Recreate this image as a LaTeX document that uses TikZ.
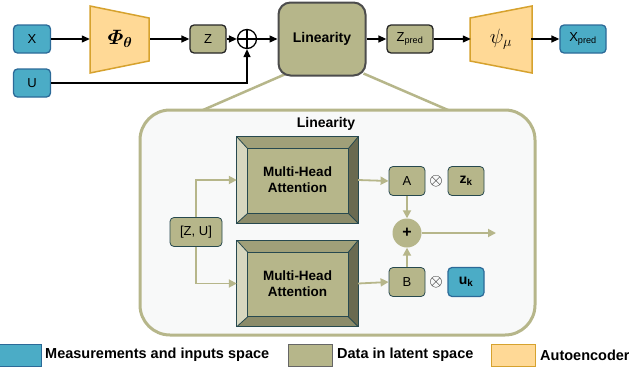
\documentclass[tikz,border=0pt]{standalone}
\usepackage{amsmath}
\usepackage{fontspec}
\setmainfont{Liberation Sans}
\usepackage{tikz}
\usetikzlibrary{arrows.meta, positioning, calc, backgrounds}

\definecolor{meas}{HTML}{4BACC6}
\definecolor{measline}{HTML}{2C6A98}
\definecolor{latent}{HTML}{B6B68A}
\definecolor{auto}{HTML}{FFD996}
\definecolor{autoline}{HTML}{D6A22E}
\definecolor{slate}{HTML}{27494F}
\definecolor{panel}{HTML}{F8F9F9}

% beveled multi-head attention block: name, x, y
\newcommand{\mhabox}[3]{%
  \node[mha] (#1) at (#2,#3) {Multi-Head\\Attention};
  \fill[fill=latent!55!white] (#1.north west) -- ($(#1.north west)+(11,12)$)
    -- ($(#1.south west)+(11,-10)$) -- (#1.south west) -- cycle;
  \fill[fill=latent!88!black] (#1.north west) -- (#1.north east)
    -- ($(#1.north east)+(-10,12)$) -- ($(#1.north west)+(11,12)$) -- cycle;
  \fill[fill=latent!58!black] (#1.north east) -- (#1.south east)
    -- ($(#1.south east)+(-10,-10)$) -- ($(#1.north east)+(-10,12)$) -- cycle;
  \fill[fill=latent!77!black] (#1.south west) -- (#1.south east)
    -- ($(#1.south east)+(-10,-10)$) -- ($(#1.south west)+(11,-10)$) -- cycle;
  \draw[slate, line width=1pt] (#1.north west) rectangle (#1.south east);
  \draw[slate, line width=1pt] ($(#1.north west)+(11,12)$) rectangle ($(#1.south east)+(-10,-10)$);
  \draw[slate, line width=0.8pt] (#1.north west) -- ($(#1.north west)+(11,12)$)
    (#1.north east) -- ($(#1.north east)+(-10,12)$)
    (#1.south east) -- ($(#1.south east)+(-10,-10)$)
    (#1.south west) -- ($(#1.south west)+(11,-10)$);
}

\begin{document}
\begin{tikzpicture}[
  x=1pt, y=-1pt,
  font=\fontsize{13}{15}\selectfont,
  meas/.style={draw=measline, fill=meas, line width=1.3pt, rounded corners=4pt,
               minimum width=37pt, minimum height=28pt, inner sep=0pt},
  lat/.style={draw=black!85, fill=latent, line width=1.3pt, rounded corners=4pt,
              minimum width=36pt, minimum height=28pt, inner sep=0pt},
  small/.style={draw=slate, fill=latent, line width=0.8pt, rounded corners=4pt,
                minimum width=36pt, minimum height=29pt, inner sep=0pt},
  mha/.style={fill=latent, minimum width=121pt, minimum height=86pt, inner sep=0pt,
              align=center, font=\fontsize{13.5}{16}\selectfont\bfseries},
  coder/.style={minimum width=60pt, minimum height=43pt, inner sep=0pt},
  arr/.style={-{Triangle[length=8pt, width=7pt]}, line width=1.3pt},
  inarr/.style={-{Triangle[length=8pt, width=8pt]}, line width=1.8pt, color=latent},
  key/.style={minimum width=44pt, minimum height=22pt, inner sep=0pt, line width=0.8pt},
  keytext/.style={anchor=west, inner sep=0pt, font=\fontsize{14.5}{17}\selectfont\bfseries},
]
\useasboundingbox (0,0) rectangle (629,375);

% Top row
\node[meas] (x) at (32,39) {X};
\node[meas] (u) at (32,83) {U};
\node[coder] (phi) at (120,39) {};
\filldraw[fill=auto, draw=autoline, line width=1.5pt]
  (90,6) -- (149,18) -- (149,61) -- (90,73) -- cycle;
\node at (phi) {\fontsize{22}{24}\selectfont$\boldsymbol{\varPhi}_{\boldsymbol{\theta}}$};
\node[lat] (z) at (208,39) {Z};
\node[circle, draw, line width=1.3pt, minimum size=19pt, inner sep=0pt] (op) at (247,39) {};
\draw[line width=1.1pt] (op.north) -- (op.south) (op.west) -- (op.east);
\node[lat, draw=black!70, line width=2pt, rounded corners=12pt,
      minimum width=87pt, minimum height=73pt, font=\fontsize{14}{16}\selectfont\bfseries]
  (lin) at (322,39) {Linearity};
\node[lat, minimum width=46pt] (zp) at (410,39) {Z\textsubscript{pred}};
\node[coder] (psi) at (501,39) {};
\filldraw[fill=auto, draw=autoline, line width=1.5pt]
  (470,18) -- (532,6) -- (532,73) -- (470,61) -- cycle;
\node at (psi) {\fontsize{22}{24}\selectfont$\psi_{\mu}$};
\node[meas, minimum width=46pt] (xp) at (583,39) {X\textsubscript{pred}};

\draw[arr] (x) -- (phi);
\draw[arr] (phi) -- (z);
\draw[arr] (z) -- (op);
\draw[arr] (op) -- (lin);
\draw[arr] (u.east) -| (op.south);
\draw[arr] (lin) -- (zp);
\draw[arr] (zp) -- (psi);
\draw[arr] (psi) -- (xp);

% Zoomed view of the linearity block
\node[draw=latent, fill=panel, line width=3pt, rounded corners=30pt,
      minimum width=395pt, minimum height=225pt] (panel) at (337.5,222.5) {};
\coordinate (cl) at (203,110);
\coordinate (cr) at (448,110);
\begin{scope}[on background layer]
\draw[latent, line width=2.5pt] (lin.south west) ++(7,-2) -- (cl);
\draw[latent, line width=2.5pt] (lin.south east) ++(-3,-3) -- (cr);
\end{scope}
\node[font=\fontsize{14}{16}\selectfont\bfseries] (title) at (326,124) {Linearity};

\mhabox{mha1}{297.5}{180}
\mhabox{mha2}{297.5}{283.5}
\node[small, minimum width=52pt] (zu) at (196,232) {[Z, U]};
\node[small] (a) at (407,181) {A};
\node[small] (b) at (407,282) {B};
\node[font=\fontsize{17}{18}\selectfont] (ta) at (436,181) {$\otimes$};
\node[font=\fontsize{17}{18}\selectfont] (tb) at (436,282) {$\otimes$};
\node[small, font=\fontsize{14}{16}\selectfont] (zk) at (466,181) {\textbf{z\textsubscript{k}}};
\node[small, fill=meas, draw=measline, line width=1.2pt, font=\fontsize{14}{16}\selectfont]
  (uk) at (466,282) {\textbf{u\textsubscript{k}}};
\node[circle, fill=latent, minimum size=29pt, inner sep=0pt,
      font=\fontsize{16}{18}\selectfont\bfseries] (plus) at (407,233) {+};
\coordinate (out) at (496,233);

\draw[inarr] (zu.north) |- (mha1.west);
\draw[inarr] (zu.south) |- (mha2.west);
\draw[inarr] (mha1.east) -- (a.west);
\draw[inarr] (mha2.east) -- (b.west);
\draw[inarr] (a) -- (plus);
\draw[inarr] (b) -- (plus);
\draw[inarr] (plus) -- (out);

% Legend
\node[key, draw=measline, fill=meas] (k1) at (19,355) {};
\node[keytext] (t1) at (45,355) {Measurements and inputs space};
\node[key, draw=black!60, fill=latent] (k2) at (310,355) {};
\node[keytext] (t2) at (337,355) {Data in latent space};
\node[key, draw=autoline, fill=auto] (k3) at (513,355) {};
\node[keytext] (t3) at (540,355) {Autoencoder};
\end{tikzpicture}
\end{document}
